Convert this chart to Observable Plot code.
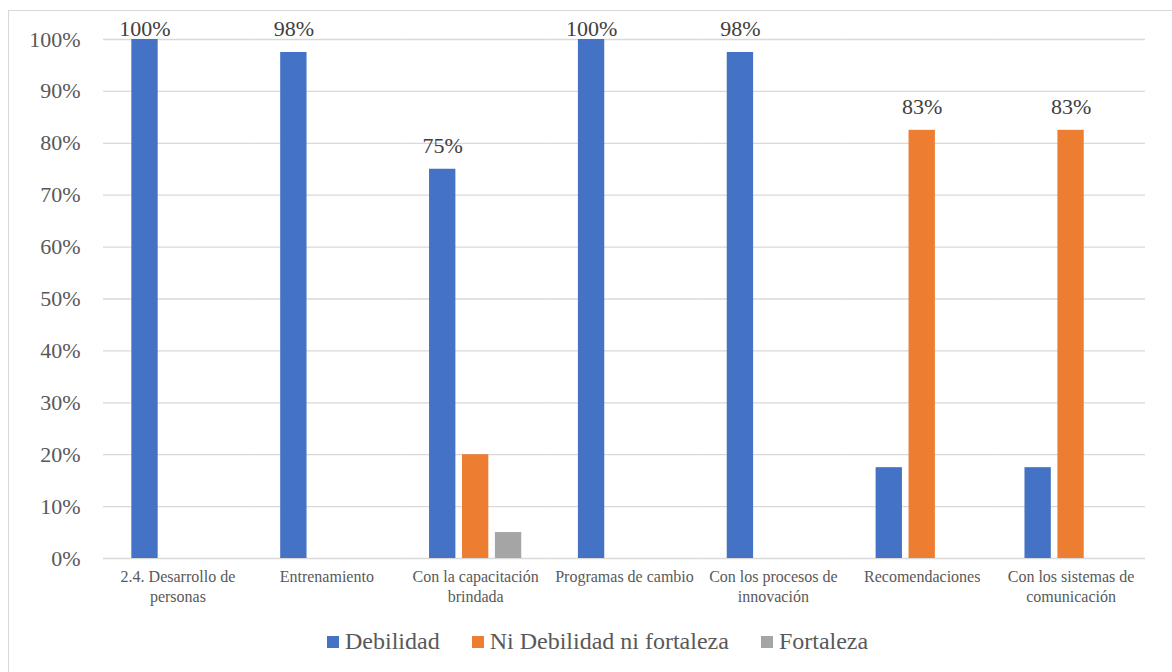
<!DOCTYPE html>
<html>
<head>
<meta charset="utf-8">
<script src="https://cdn.jsdelivr.net/npm/d3@7"></script>
<script src="https://cdn.jsdelivr.net/npm/@observablehq/plot@0.6"></script>
<style>
  html, body { margin: 0; padding: 0; background: #fff; }
  body { width: 1172px; height: 672px; position: relative; overflow: hidden; font-family: 'Liberation Serif', serif; }
  #frame { position: absolute; left: 8px; top: 10px; width: 1200px; height: 700px; border: 1.5px solid #d9d9d9; box-sizing: border-box; }
  #chart { position: absolute; left: 0; top: 0; }
  #legend { position: absolute; left: 327px; top: 628px; display: flex; align-items: center; font-size: 24px; color: #595959; white-space: nowrap; }
  #legend .item { display: flex; align-items: center; margin-right: 32px; }
  #legend .sw { width: 12px; height: 12px; margin-right: 6px; }
</style>
</head>
<body>
<div id="frame"></div>
<div id="chart"></div>
<div id="legend" style="font-family:'Liberation Serif', serif"></div>
<script>
const FONT = "'Liberation Serif', serif";

// Categories (x axis) and their wrapped tick labels
const categories = [
  "2.4. Desarrollo de personas",
  "Entrenamiento",
  "Con la capacitación brindada",
  "Programas de cambio",
  "Con los procesos de innovación",
  "Recomendaciones",
  "Con los sistemas de comunicación"
];
const categoryLabels = [
  "2.4. Desarrollo de\npersonas",
  "Entrenamiento",
  "Con la capacitación\nbrindada",
  "Programas de cambio",
  "Con los procesos de\ninnovación",
  "Recomendaciones",
  "Con los sistemas de\ncomunicación"
];

// Series names and colours
const series = ["Debilidad", "Ni Debilidad ni fortaleza", "Fortaleza"];
const colors = ["#4472C4", "#ED7D31", "#A5A5A5"];

// Percentages per series, one value per category
const debilidad   = [100, 97.5, 75, 100, 97.5, 17.5, 17.5];
const niDebilidad = [0, 0, 20, 0, 0, 82.5, 82.5];
const fortaleza   = [0, 0, 5, 0, 0, 0, 0];

// Y axis ticks
const yTicks = [0, 10, 20, 30, 40, 50, 60, 70, 80, 90, 100];

const seriesValues = [debilidad, niDebilidad, fortaleza];
const rows = [];
categories.forEach((c, i) => {
  series.forEach((s, j) => rows.push({category: c, series: s, value: seriesValues[j][i]}));
});

// Only the largest value in each category carries a label
const labelled = categories.map(c => {
  const group = rows.filter(r => r.category === c);
  return group.reduce((a, b) => (b.value > a.value ? b : a));
});

// Labels sit above their bar but are kept inside the frame at the top
const labelCeiling = 97.5;

const chart = Plot.plot({
  width: 1172,
  height: 620,
  marginLeft: 103,
  marginRight: 27,
  marginTop: 39,
  marginBottom: 62,
  style: `font-family: ${FONT}; background: transparent;`,
  fx: { domain: categories, padding: 0, round: false },
  x: { domain: series, paddingInner: 0.2, paddingOuter: 0.86, round: false, axis: null },
  y: { domain: [0, 100] },
  color: { domain: series, range: colors },
  marks: [
    Plot.ruleY(yTicks, { stroke: "#d9d9d9", strokeWidth: 1.3 }),
    Plot.barY(rows.filter(r => r.value > 0), {
      fx: "category", x: "series", y: "value", fill: "series"
    }),
    Plot.text(labelled, {
      fx: "category", x: "series",
      y: d => Math.min(d.value, labelCeiling),
      text: d => Math.round(d.value) + "%",
      lineAnchor: "bottom", dy: -16,
      fontSize: 22, fill: "#404040", fontFamily: FONT
    }),
    Plot.axisY(yTicks, {
      tickSize: 0, tickPadding: 23,
      tickFormat: d => d + "%",
      fontSize: 22, fill: "#595959", fontFamily: FONT, label: null
    }),
    Plot.axisFx({
      anchor: "bottom",
      tickSize: 0, tickPadding: 10,
      tickFormat: d => categoryLabels[categories.indexOf(d)],
      fontSize: 16, fill: "#595959", fontFamily: FONT, lineHeight: 1.22, label: null
    })
  ]
});
document.getElementById("chart").appendChild(chart);

// Legend below the chart
const legend = document.getElementById("legend");
series.forEach((s, i) => {
  const item = document.createElement("div");
  item.className = "item";
  const sw = document.createElement("span");
  sw.className = "sw";
  sw.style.background = colors[i];
  const t = document.createElement("span");
  t.textContent = s;
  t.style.fontFamily = FONT;
  item.appendChild(sw);
  item.appendChild(t);
  legend.appendChild(item);
});
</script>
</body>
</html>
